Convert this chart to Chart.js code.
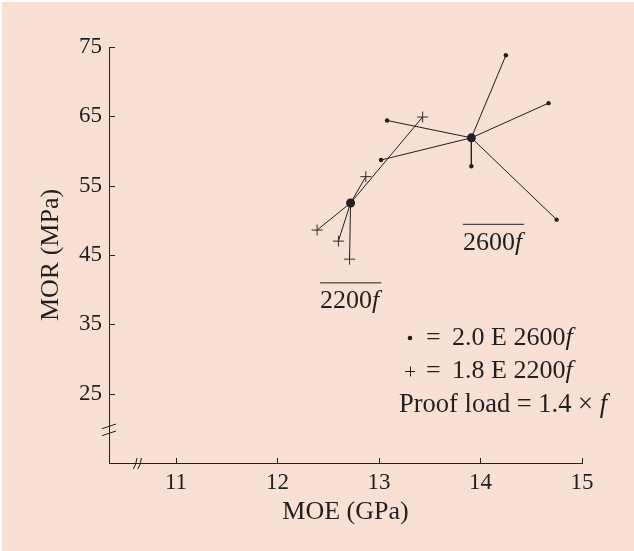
<!DOCTYPE html>
<html>
<head>
<meta charset="utf-8">
<script src="https://cdn.jsdelivr.net/npm/chart.js@4.4.1/dist/chart.umd.min.js"></script>
<style>
  html, body { margin: 0; padding: 0; background: #fff; }
  #wrap { width: 634px; height: 551px; }
</style>
</head>
<body>
<div id="wrap"><canvas id="myChart" width="634" height="551"></canvas></div>
<script>
// MOE (GPa) / MOR (MPa)
const center2600 = [13.91, 61.9]
const moe2600 = [14.25, 14.67, 14.75, 13.91, 13.02, 13.08]
const mor2600 = [73.8, 66.9, 50.1, 57.8, 58.7, 64.4]

const center2200 = [12.72, 52.5]
const moe2200 = [13.43, 12.87, 12.39, 12.60, 12.71]
const mor2200 = [64.9, 56.3, 48.6, 47.0, 44.4]

const xTicks = [11, 12, 13, 14, 15]
const yTicks = [25, 35, 45, 55, 65, 75]

const ink = '#231f20'
const serif = "'Liberation Serif', 'DejaVu Serif', serif"

// spokes: center -> point, gaps in between
function spokes(center, xs, ys) {
    const out = []
    for (let i = 0; i < xs.length; i++) {
        out.push({x: center[0], y: center[1]})
        out.push({x: xs[i], y: ys[i]})
        out.push({x: null, y: null})
    }
    return out
}
function pts(xs, ys) {
    return xs.map((v, i) => ({x: v, y: ys[i]}))
}

const extras = {
    id: 'extras',
    beforeDraw(chart) {
        const c = chart.ctx
        c.save()
        c.fillStyle = '#f9e0d5'
        c.fillRect(2, 2, chart.width - 2, chart.height - 2)
        c.restore()
    },
    afterDraw(chart) {
        const c = chart.ctx
        const xs = chart.scales.x
        const ys = chart.scales.y
        const a = chart.chartArea
        c.save()
        c.strokeStyle = ink
        c.lineWidth = 1
        // inward tick marks
        c.beginPath()
        yTicks.forEach(v => {
            const p = Math.round(ys.getPixelForValue(v)) + 0.5
            c.moveTo(a.left, p); c.lineTo(a.left + 6, p)
        })
        xTicks.forEach(v => {
            const p = Math.round(xs.getPixelForValue(v)) + 0.5
            c.moveTo(p, a.bottom); c.lineTo(p, a.bottom - 5)
        })
        c.stroke()

        // axis breaks
        const by = ys.getPixelForValue(20)
        c.beginPath()
        c.moveTo(a.left - 7, by + 0.3); c.lineTo(a.left + 7, by - 4.3)
        c.moveTo(a.left - 7, by + 7.3); c.lineTo(a.left + 7, by + 2.7)
        const bx = xs.getPixelForValue(10.62)
        c.moveTo(bx - 4, a.bottom + 6); c.quadraticCurveTo(bx - 1, a.bottom + 1, bx - 0.5, a.bottom - 5)
        c.moveTo(bx + 0.5, a.bottom + 6); c.quadraticCurveTo(bx + 3.5, a.bottom + 1, bx + 4, a.bottom - 5)
        c.stroke()

        // group labels with overline
        c.fillStyle = ink
        c.textBaseline = 'alphabetic'
        const label = (num, x, y) => {
            c.font = '26px ' + serif
            const w = c.measureText(num).width
            c.fillText(num, x, y)
            c.font = 'italic 26px ' + serif
            c.fillText('f', x + w, y)
            const wf = c.measureText('f').width
            c.beginPath()
            c.moveTo(x, y - 25.5); c.lineTo(x + w + wf + 2, y - 25.5)
            c.stroke()
        }
        label('2600', xs.getPixelForValue(13.827), ys.getPixelForValue(45.75))
        label('2200', xs.getPixelForValue(12.42), ys.getPixelForValue(37.3))

        // legend block
        c.beginPath()
        c.arc(410, 338, 2.3, 0, Math.PI * 2)
        c.fill()
        c.beginPath()
        c.moveTo(405, 371.5); c.lineTo(415, 371.5)
        c.moveTo(410.5, 366.5); c.lineTo(410.5, 376.5)
        c.stroke()
        const row = (txt, y) => {
            c.font = '26px ' + serif
            c.fillText('=', 426, y)
            c.fillText(txt, 452, y)
            const w = c.measureText(txt).width
            c.font = 'italic 26px ' + serif
            c.fillText('f', 452 + w, y)
        }
        row('2.0 E 2600', 345)
        row('1.8 E 2200', 378)
        c.font = '26.5px ' + serif
        const s = 'Proof load = 1.4 \u00d7 '
        c.fillText(s, 399, 411.5)
        const w = c.measureText(s).width
        c.font = 'italic 26.5px ' + serif
        c.fillText('f', 399 + w, 411.5)
        c.restore()
    }
}

const ctx = document.getElementById('myChart').getContext('2d')
const myChart = new Chart(ctx, {
    type: 'scatter',
    data: {
        datasets: [
            {
                label: 'spokes 2600',
                data: spokes(center2600, moe2600, mor2600),
                showLine: true,
                spanGaps: false,
                borderColor: ink,
                borderWidth: 1,
                pointRadius: 0,
                order: 2
            },
            {
                label: 'spokes 2200',
                data: spokes(center2200, moe2200, mor2200),
                showLine: true,
                spanGaps: false,
                borderColor: ink,
                borderWidth: 1,
                pointRadius: 0,
                order: 2
            },
            {
                label: '2.0 E 2600f',
                data: pts(moe2600, mor2600),
                pointStyle: 'circle',
                pointRadius: 2.2,
                backgroundColor: ink,
                borderColor: ink,
                borderWidth: 0,
                order: 1
            },
            {
                label: '1.8 E 2200f',
                data: pts(moe2200, mor2200),
                pointStyle: 'cross',
                pointRadius: 5.5,
                borderColor: '#2e2a2b',
                borderWidth: 1,
                order: 1
            },
            {
                label: 'means',
                data: [{x: center2600[0], y: center2600[1]}, {x: center2200[0], y: center2200[1]}],
                pointStyle: 'circle',
                pointRadius: 4.5,
                backgroundColor: ink,
                borderColor: ink,
                borderWidth: 0,
                order: 0
            }
        ]
    },
    options: {
        responsive: false,
        animation: false,
        events: [],
        layout: { padding: { left: 0, top: 47, right: 52, bottom: 0 } },
        plugins: {
            legend: { display: false },
            tooltip: { enabled: false }
        },
        scales: {
            x: {
                type: 'linear',
                min: 10.34,
                max: 15,
                afterFit: s => { s.height = 88 },
                afterBuildTicks: s => { s.ticks = xTicks.map(v => ({value: v})) },
                grid: { display: false, drawTicks: false },
                border: { display: true, color: ink, width: 1 },
                ticks: {
                    color: ink,
                    padding: 6,
                    font: { family: serif, size: 23 },
                    callback: v => String(v)
                },
                title: {
                    display: true,
                    text: 'MOE (GPa)',
                    color: ink,
                    font: { family: serif, size: 26 },
                    padding: { top: 0, bottom: 23 }
                }
            },
            y: {
                type: 'linear',
                min: 15,
                max: 75,
                afterFit: s => { s.width = 109 },
                afterBuildTicks: s => { s.ticks = yTicks.map(v => ({value: v})) },
                grid: { display: false, drawTicks: false },
                border: { display: true, color: ink, width: 1 },
                ticks: {
                    color: ink,
                    padding: 7,
                    font: { family: serif, size: 23 },
                    callback: v => String(v)
                },
                title: {
                    display: true,
                    text: 'MOR (MPa)',
                    color: ink,
                    font: { family: serif, size: 26 },
                    padding: { top: 36, bottom: 0 }
                }
            }
        }
    },
    plugins: [extras]
})
</script>
</body>
</html>
